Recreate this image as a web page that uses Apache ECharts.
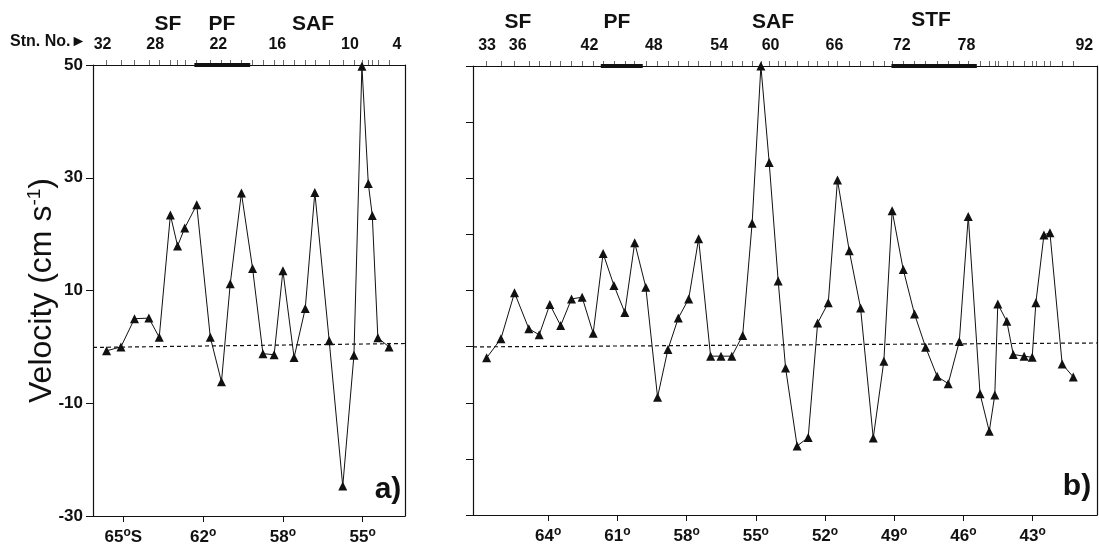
<!DOCTYPE html>
<html>
<head>
<meta charset="utf-8">
<script src="https://cdn.jsdelivr.net/npm/echarts@6/dist/echarts.min.js"></script>
<style>
  html, body { margin: 0; padding: 0; background: #fff; }
  #chart { width: 1099px; height: 548px; }
</style>
</head>
<body>
<div id="chart"></div>
<script>
// panel a) : along-track distance (label spacing = 1 unit), velocity in cm/s
const distA = [-0.21, -0.03, 0.14, 0.32, 0.45, 0.59, 0.68, 0.77, 0.92, 1.09, 1.23, 1.34, 1.48, 1.62,
  1.75, 1.89, 2.00, 2.14, 2.28, 2.40, 2.58, 2.75, 2.89, 2.99, 3.07, 3.12, 3.19, 3.33];
const velA = [-0.7, 0, 5, 5.1, 1.7, 23.4, 17.9, 21.1, 25.2, 1.7, -6.2, 11.2, 27.3, 13.9,
  -1.2, -1.4, 13.5, -1.9, 6.8, 27.4, 1.1, -24.7, -1.5, 49.8, 29, 23.3, 1.6, 0];
const latTickPosA = [0, 1, 2, 3];
const latTickA = ['65', '62', '58', '55'];
const stnPosA = [-0.26, 0.40, 1.19, 1.93, 2.84, 3.43];
const stnA = ['32', '28', '22', '16', '10', '4'];
const pfBarA = [0.89, 1.59];
const zeroA = [[-0.38, -0.1], [3.53, 0.6]];

// panel b) : latitude (deg S), velocity in cm/s
const latB = [66.67, 66.05, 65.46, 64.84, 64.39, 63.93, 63.46, 62.99, 62.53, 62.05, 61.62, 61.15, 60.68,
  60.25, 59.77, 59.26, 58.81, 58.36, 57.91, 57.48, 56.96, 56.51, 56.04, 55.57, 55.16, 54.78, 54.42,
  54.03, 53.71, 53.21, 52.73, 52.32, 51.86, 51.46, 50.95, 50.46, 49.91, 49.45, 49.09, 48.61, 48.12,
  47.64, 47.14, 46.66, 46.18, 45.79, 45.28, 44.88, 44.64, 44.51, 44.12, 43.84, 43.37, 43.02, 42.86,
  42.51, 42.25, 41.72, 41.24];
const velB = [-2.0, 1.4, 9.6, 3.2, 2.1, 7.5, 3.75, 8.5, 8.8, 2.4, 16.6, 10.9, 6.1, 18.5, 10.6, -9.0,
  -0.5, 5.1, 8.5, 19.2, -1.7, -1.7, -1.7, 2.0, 22.0, 50, 32.8, 11.7, -3.8, -17.7, -16.2, 4.2, 7.8,
  29.7, 17.1, 6.9, -16.3, -2.6, 24.2, 13.75, 5.8, -0.1, -5.3, -6.6, 0.9, 23.2, -8.4, -15.1, -8.6,
  7.6, 4.5, -1.4, -1.7, -1.9, 7.8, 19.9, 20.3, -3.1, -5.4];
const latTickB = [64, 61, 58, 55, 52, 49, 46, 43];
const stnPosB = [66.65, 65.32, 62.21, 59.42, 56.59, 54.36, 51.59, 48.67, 45.87, 40.76];
const stnB = ['33', '36', '42', '48', '54', '60', '66', '72', '78', '92'];
const pfBarB = [61.72, 59.90];
const stfBarB = [49.12, 45.42];
const zeroB = [[67.26, -0.05], [40.21, 0.65]];

const FONT = '"Liberation Sans", Arial, sans-serif';
const INK = '#111';

function pick(pos, labels, v) {
  let best = 0;
  for (let i = 1; i < pos.length; i++) {
    if (Math.abs(pos[i] - v) < Math.abs(pos[best] - v)) best = i;
  }
  return labels[best];
}

const degRich = { o: { fontSize: 12, fontWeight: 'bold', fontFamily: FONT, color: INK, verticalAlign: 'top', padding: [0, 0, 8, 0] } };
const boldLabel = { fontFamily: FONT, fontWeight: 'bold', fontSize: 17, color: INK };
const line = { show: true, onZero: false, lineStyle: { color: INK, width: 1.2 } };

let myChart = echarts.init(document.getElementById('chart'));
let option = {
  backgroundColor: '#fff',
  animation: false,
  grid: [
    { left: 93, top: 65, width: 312, height: 451 },
    { left: 473, top: 66, width: 624, height: 449 }
  ],
  xAxis: [
    {
      gridIndex: 0, type: 'value', position: 'bottom', min: -0.38, max: 3.53,
      axisLine: line, splitLine: { show: false },
      axisTick: { show: true, length: 6, customValues: latTickPosA, lineStyle: { color: INK } },
      axisLabel: Object.assign({}, boldLabel, {
        customValues: latTickPosA, margin: 11, rich: degRich,
        formatter: v => pick(latTickPosA, latTickA, v) + '{o|o}' + (v === 0 ? 'S' : '')
      })
    },
    {
      gridIndex: 0, type: 'value', position: 'top', min: -0.38, max: 3.53,
      axisLine: line, splitLine: { show: false },
      axisTick: { show: true, length: 5, customValues: distA, lineStyle: { color: '#444', width: 0.8 } },
      axisLabel: Object.assign({}, boldLabel, {
        fontSize: 16, customValues: stnPosA, margin: 12,
        formatter: v => pick(stnPosA, stnA, v)
      })
    },
    {
      gridIndex: 1, type: 'value', position: 'bottom', inverse: true, min: 40.21, max: 67.26,
      axisLine: line, splitLine: { show: false },
      axisTick: { show: true, length: 6, customValues: latTickB, lineStyle: { color: INK } },
      axisLabel: Object.assign({}, boldLabel, {
        customValues: latTickB, margin: 11, rich: degRich,
        formatter: v => v + '{o|o}'
      })
    },
    {
      gridIndex: 1, type: 'value', position: 'top', inverse: true, min: 40.21, max: 67.26,
      axisLine: line, splitLine: { show: false },
      axisTick: { show: true, length: 5, customValues: latB, lineStyle: { color: '#444', width: 0.8 } },
      axisLabel: Object.assign({}, boldLabel, {
        fontSize: 16, customValues: stnPosB, margin: 12,
        formatter: v => pick(stnPosB, stnB, v)
      })
    }
  ],
  yAxis: [
    {
      gridIndex: 0, type: 'value', min: -30, max: 50, interval: 20,
      axisLine: line, splitLine: { show: false },
      axisTick: { show: true, length: 7, lineStyle: { color: INK } },
      axisLabel: Object.assign({}, boldLabel, { margin: 10 }),
      name: 'Velocity (cm s{sup|-1})', nameLocation: 'middle', nameRotate: 90, nameGap: 33,
      nameMoveOverlap: false,
      nameTextStyle: {
        fontFamily: FONT, fontSize: 32, color: INK,
        rich: { sup: { fontFamily: FONT, fontSize: 19, color: INK, verticalAlign: 'top', padding: [0, 0, 16, 0] } }
      }
    },
    {
      gridIndex: 0, type: 'value', position: 'right', min: -30, max: 50,
      axisLine: line, axisTick: { show: false }, axisLabel: { show: false }, splitLine: { show: false }
    },
    {
      gridIndex: 1, type: 'value', min: -30, max: 50, interval: 10,
      axisLine: line, splitLine: { show: false },
      axisTick: { show: true, length: 7, lineStyle: { color: INK } },
      axisLabel: { show: false }
    },
    {
      gridIndex: 1, type: 'value', position: 'right', min: -30, max: 50,
      axisLine: line, axisTick: { show: false }, axisLabel: { show: false }, splitLine: { show: false }
    }
  ],
  series: [
    {
      type: 'line', xAxisIndex: 0, yAxisIndex: 0, clip: false, symbol: 'none',
      lineStyle: { color: INK, width: 1.2, type: [4, 3] },
      data: zeroA
    },
    {
      type: 'line', xAxisIndex: 0, yAxisIndex: 0, clip: false,
      symbol: 'triangle', symbolSize: 9,
      itemStyle: { color: INK }, lineStyle: { color: INK, width: 1 },
      data: distA.map((d, i) => [d, velA[i]])
    },
    {
      type: 'line', xAxisIndex: 1, yAxisIndex: 0, clip: false, symbol: 'none',
      lineStyle: { color: INK, width: 4 },
      data: pfBarA.map(d => [d, 50])
    },
    {
      type: 'line', xAxisIndex: 2, yAxisIndex: 2, clip: false, symbol: 'none',
      lineStyle: { color: INK, width: 1.2, type: [4, 3] },
      data: zeroB
    },
    {
      type: 'line', xAxisIndex: 2, yAxisIndex: 2, clip: false,
      symbol: 'triangle', symbolSize: 9,
      itemStyle: { color: INK }, lineStyle: { color: INK, width: 1 },
      data: latB.map((d, i) => [d, velB[i]])
    },
    {
      type: 'line', xAxisIndex: 3, yAxisIndex: 2, clip: false, symbol: 'none',
      lineStyle: { color: INK, width: 4 },
      data: pfBarB.map(d => [d, 50])
    },
    {
      type: 'line', xAxisIndex: 3, yAxisIndex: 2, clip: false, symbol: 'none',
      lineStyle: { color: INK, width: 4 },
      data: stfBarB.map(d => [d, 50])
    }
  ],
  graphic: [
    { type: 'text', left: 10, top: 34, style: { text: 'Stn. No.\u25BA', font: 'bold 16px ' + FONT, fill: INK } },
    { type: 'text', x: 168, y: 24, style: { text: 'SF', font: 'bold 21px ' + FONT, fill: INK, align: 'center', verticalAlign: 'middle' } },
    { type: 'text', x: 222, y: 24, style: { text: 'PF', font: 'bold 21px ' + FONT, fill: INK, align: 'center', verticalAlign: 'middle' } },
    { type: 'text', x: 313, y: 24, style: { text: 'SAF', font: 'bold 21px ' + FONT, fill: INK, align: 'center', verticalAlign: 'middle' } },
    { type: 'text', x: 518, y: 22, style: { text: 'SF', font: 'bold 21px ' + FONT, fill: INK, align: 'center', verticalAlign: 'middle' } },
    { type: 'text', x: 617, y: 22, style: { text: 'PF', font: 'bold 21px ' + FONT, fill: INK, align: 'center', verticalAlign: 'middle' } },
    { type: 'text', x: 773, y: 22, style: { text: 'SAF', font: 'bold 21px ' + FONT, fill: INK, align: 'center', verticalAlign: 'middle' } },
    { type: 'text', x: 931, y: 20, style: { text: 'STF', font: 'bold 21px ' + FONT, fill: INK, align: 'center', verticalAlign: 'middle' } },
    { type: 'text', x: 388, y: 490, style: { text: 'a)', font: 'bold 30px ' + FONT, fill: INK, align: 'center', verticalAlign: 'middle' } },
    { type: 'text', x: 1077, y: 487, style: { text: 'b)', font: 'bold 30px ' + FONT, fill: INK, align: 'center', verticalAlign: 'middle' } }
  ]
};

option && myChart.setOption(option);
</script>
</body>
</html>
